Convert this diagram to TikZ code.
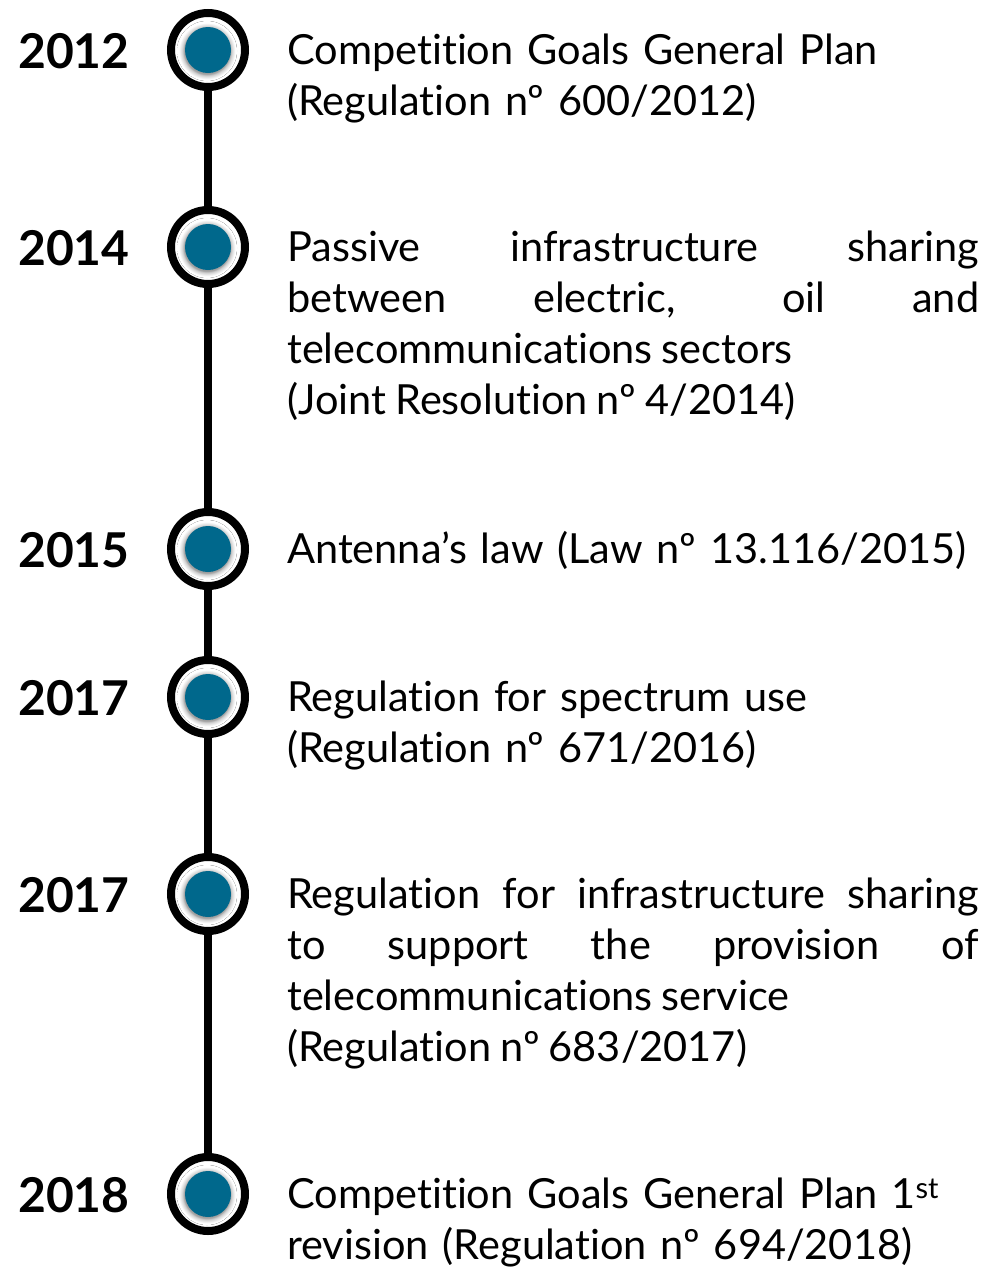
\documentclass[tikz,border=0pt]{standalone}
\usepackage{fontspec}
\setmainfont{Lato}[WordSpace=0.85,Ligatures=NoCommon]
\definecolor{dotblue}{RGB}{0,104,140}
\pgfdeclareradialshading{glow}{\pgfpoint{0bp}{0bp}}{color(0bp)=(black!38); color(19bp)=(black!38); color(20.5bp)=(black!18); color(23.5bp)=(white); color(100bp)=(white)}
\newcommand\yearfont{\fontsize{48}{58}\selectfont\bfseries}
\newcommand\descfont{\fontsize{41.5}{51}\selectfont}
\begin{document}
\begin{tikzpicture}[x=1pt,y=-1pt,
  ring/.style={circle, draw=black, line width=8pt, fill=white, minimum size=74pt, inner sep=0pt},
  link/.style={line width=8pt, draw=black},
  year/.style={anchor=base west, inner sep=0pt, font=\yearfont},
  desc/.style={anchor=base west, inner sep=0pt, text width=692pt, font=\descfont},
  just/.style={desc, align=justify},
  left/.style={desc, align=left}]
\useasboundingbox (0,0) rectangle (986,1267);
% rings
\node[ring] (c1) at (208,50) {};
\node[ring] (c2) at (208,247) {};
\node[ring] (c3) at (208,549) {};
\node[ring] (c4) at (208,697) {};
\node[ring] (c5) at (208,894) {};
\node[ring] (c6) at (208,1194) {};
% links
\draw[link] (c1) -- (c2);
\draw[link] (c2) -- (c3);
\draw[link] (c3) -- (c4);
\draw[link] (c4) -- (c5);
\draw[link] (c5) -- (c6);
% dots
\foreach \c in {c1,c2,c3,c4,c5,c6}{
  \fill[shading=glow] ([shift={(-1,1)}]\c.center) circle (30pt);
  \fill[dotblue] (\c.center) circle (23pt);
}
% years
\node[year] (y1) at (18,68) {2012};
\node[year] (y2) at (18,265) {2014};
\node[year] (y3) at (18,567) {2015};
\node[year] (y4) at (18,715) {2017};
\node[year] (y5) at (18,912) {2017};
\node[year] (y6) at (18,1212) {2018};
% descriptions
\node[left] (t1) at (287,64) {Competition Goals General Plan\\(Regulation nº 600/2012)};
\node[just] (t2) at (287,261) {\tolerance=10000\hyphenpenalty=10000 Passive infrastructure sharing\linebreak between electric, oil and\linebreak telecommunications sectors\\(Joint Resolution nº 4/2014)};
\node[left] (t3) at (287,563) {Antenna’s law (Law nº 13.116/2015)};
\node[left] (t4) at (287,711) {Regulation for spectrum use\\(Regulation nº 671/2016)};
\node[just] (t5) at (287,908) {\tolerance=10000\hyphenpenalty=10000 Regulation for infrastructure sharing\linebreak to support the provision of\linebreak telecommunications service\\(Regulation nº 683/2017)};
\node[left] (t6) at (287,1208) {Competition Goals General Plan 1\textsuperscript{st}\\revision (Regulation nº 694/2018)};
\end{tikzpicture}
\end{document}
